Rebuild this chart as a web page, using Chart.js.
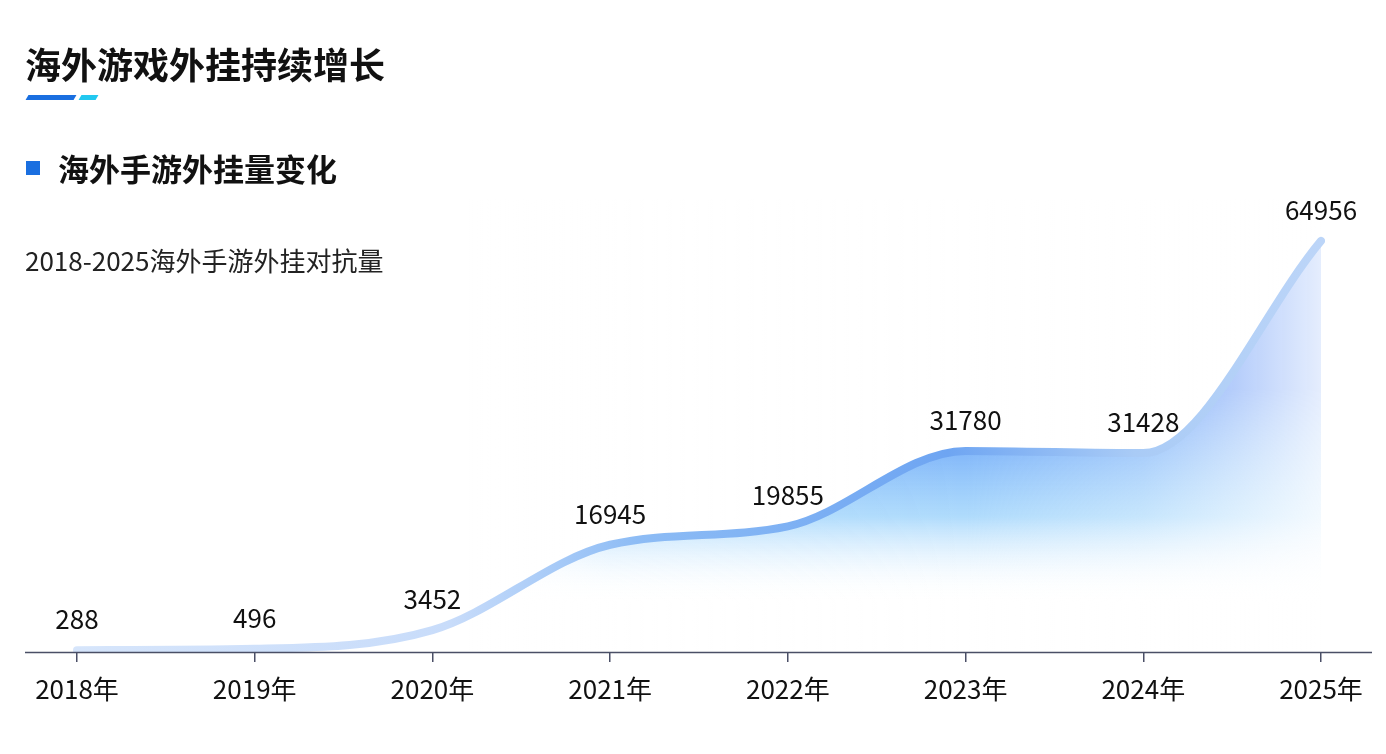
<!DOCTYPE html>
<html>
<head>
<meta charset="utf-8">
<script src="https://cdn.jsdelivr.net/npm/chart.js@4"></script>
<style>
  body { margin: 0; background: #fff; font-family: "Noto Sans CJK SC", sans-serif; }
  #wrap { position: relative; width: 1386px; height: 754px; overflow: hidden; }
  #chart { position: absolute; left: 0; top: 0; z-index: 0; }
  .t { position: absolute; z-index: 2; }
  .title { left: 25px; top: 38px; font-size: 36px; font-weight: 700; color: #111; line-height: 50px; }
  .bar1 { left: 27px; top: 95px; width: 48px; height: 5px; background: #1a6fe0; transform: skewX(-30deg); }
  .bar2 { left: 80px; top: 95px; width: 17px; height: 5px; background: #22c8f0; transform: skewX(-30deg); }
  .sub { left: 58px; top: 145px; font-size: 31px; font-weight: 700; color: #111; line-height: 46px; }
  .square { left: 26px; top: 161px; width: 14px; height: 14px; background: #1a6fe0; }
  .note { left: 25px; top: 241px; font-size: 26px; color: #222; line-height: 38px; }
</style>
</head>
<body>
<div id="wrap">
  <canvas id="chart" width="1386" height="754"></canvas>
  <div class="t title">海外游戏外挂持续增长</div>
  <div class="t bar1"></div><div class="t bar2"></div>
  <div class="t square"></div>
  <div class="t sub">海外手游外挂量变化</div>
  <div class="t note">2018-2025海外手游外挂对抗量</div>
</div>
<script>
const years = ["2018年", "2019年", "2020年", "2021年", "2022年", "2023年", "2024年", "2025年"];
const cheatCounts = [288, 496, 3452, 16945, 19855, 31780, 31428, 64956];

const fillGradient = (ctx) => {
  const a = ctx.chart.chartArea;
  if (!a) return "rgba(80,140,245,0.6)";
  const g = ctx.chart.ctx.createLinearGradient(0, a.top + 180, 0, a.bottom - 50);
  g.addColorStop(0, "rgba(70,130,245,0.95)");
  g.addColorStop(0.6, "rgba(110,190,250,0.55)");
  g.addColorStop(1, "rgba(255,255,255,0)");
  return g;
};

const lineGradient = (ctx) => {
  const a = ctx.chart.chartArea;
  if (!a) return "#8dbcf5";
  const g = ctx.chart.ctx.createLinearGradient(a.left, 0, a.right, 0);
  g.addColorStop(0, "#d6e5fb");
  g.addColorStop(0.3, "#c8dcfa");
  g.addColorStop(0.45, "#8dbcf5");
  g.addColorStop(0.7, "#6ea5f2");
  g.addColorStop(0.85, "#a9cbf6");
  g.addColorStop(1, "#bcd5f8");
  return g;
};

// datasets draw from highest index to lowest: fill (1) first, then white fade, then line (0)
const fadePlugin = {
  id: "fade",
  afterDatasetDraw(chart, args) {
    if (args.index !== 1) return;
    const { ctx, chartArea: a } = chart;
    const x = chart.scales.x;
    const g = ctx.createLinearGradient(a.left, 0, a.right, 0);
    const p = (i) => (x.getPixelForValue(i) - a.left) / (a.right - a.left);
    g.addColorStop(0, "rgba(255,255,255,1)");
    g.addColorStop(p(2.2), "rgba(255,255,255,1)");
    g.addColorStop(p(3), "rgba(255,255,255,0.1)");
    g.addColorStop(p(5), "rgba(255,255,255,0)");
    g.addColorStop(p(6), "rgba(255,255,255,0.3)");
    g.addColorStop(1, "rgba(255,255,255,0.85)");
    ctx.save();
    ctx.fillStyle = g;
    ctx.fillRect(a.left - 20, a.top - 10, a.right - a.left + 40, a.bottom - a.top + 10);
    ctx.restore();
  },
  afterDraw(chart) {
    const { ctx, chartArea: a } = chart;
    ctx.save();
    ctx.strokeStyle = "#4a4f66";
    ctx.lineWidth = 1.5;
    ctx.beginPath();
    ctx.moveTo(25, a.bottom + 0.5);
    ctx.lineTo(1372, a.bottom + 0.5);
    ctx.stroke();
    const meta = chart.getDatasetMeta(0);
    ctx.fillStyle = "#111";
    ctx.font = "26px 'Noto Sans CJK SC', sans-serif";
    ctx.textAlign = "center";
    ctx.textBaseline = "bottom";
    meta.data.forEach((pt, i) => {
      ctx.fillText(String(cheatCounts[i]), pt.x, pt.y - 18);
    });
    ctx.restore();
  }
};

new Chart(document.getElementById("chart"), {
  type: "line",
  data: {
    labels: years,
    datasets: [
      {
        data: cheatCounts,
        fill: false,
        borderColor: lineGradient,
        borderWidth: 8,
        borderCapStyle: "round",
        pointRadius: 0,
        cubicInterpolationMode: "monotone"
      },
      {
        data: cheatCounts,
        fill: "origin",
        backgroundColor: fillGradient,
        borderWidth: 0,
        pointRadius: 0,
        cubicInterpolationMode: "monotone"
      }
    ]
  },
  options: {
    responsive: false,
    animation: false,
    events: [],
    layout: { padding: { top: 209, left: 77, right: 65, bottom: 0 } },
    plugins: { legend: { display: false }, tooltip: { enabled: false } },
    scales: {
      y: { display: false, min: 0, max: 70000 },
      x: {
        offset: false,
        afterFit(s) { s.height = 102; },
        border: { display: false },
        grid: { drawOnChartArea: false, tickLength: 10, color: "#4a4f66", lineWidth: 1.5 },
        ticks: { color: "#111", padding: 12, font: { size: 26, family: "'Noto Sans CJK SC', sans-serif" }, maxRotation: 0 }
      }
    }
  },
  plugins: [fadePlugin]
});
</script>
</body>
</html>
